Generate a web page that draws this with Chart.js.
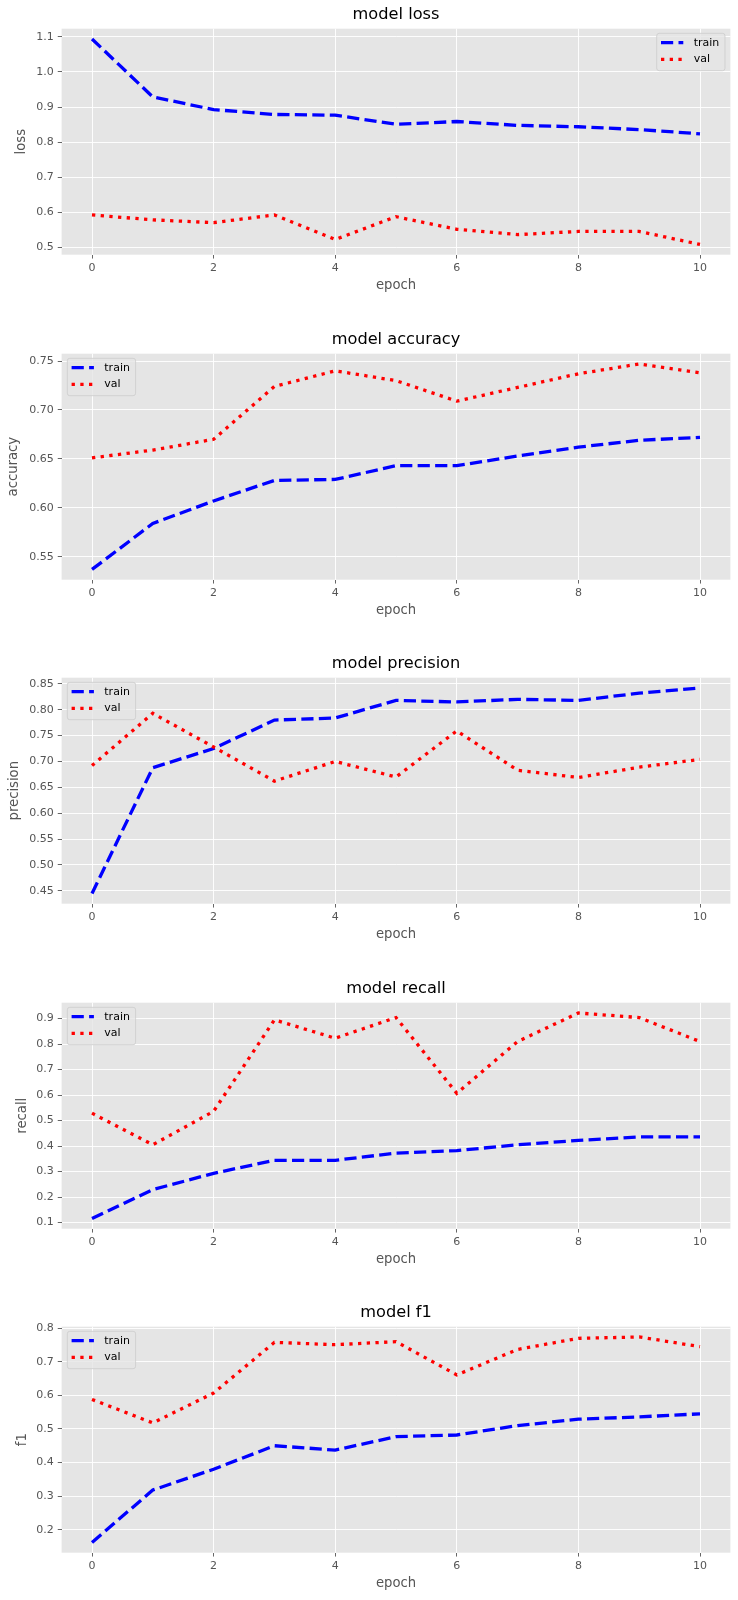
<!DOCTYPE html>
<html><head><meta charset="utf-8">
<script src="https://cdn.jsdelivr.net/npm/chart.js@4.4.1/dist/chart.umd.min.js"></script>
<style>
html,body{margin:0;padding:0;background:#ffffff;}
body{width:738px;height:1600px;position:relative;overflow:hidden;}
.box{position:absolute;left:0;width:738px;height:300px;}
</style></head><body>
<div class="box" style="top:0px"><canvas id="c0"></canvas></div>
<div class="box" style="top:324.5px"><canvas id="c1"></canvas></div>
<div class="box" style="top:649px"><canvas id="c2"></canvas></div>
<div class="box" style="top:973.5px"><canvas id="c3"></canvas></div>
<div class="box" style="top:1298px"><canvas id="c4"></canvas></div>
<script>
// ---- data ----
const epochs = [0, 1, 2, 3, 4, 5, 6, 7, 8, 9, 10];
const xTickLabels = ['0', '2', '4', '6', '8', '10'];

const lossTrain = [1.094, 0.929, 0.893, 0.879, 0.877, 0.851, 0.859, 0.848, 0.844, 0.836, 0.824];
const lossVal   = [0.593, 0.579, 0.571, 0.593, 0.523, 0.588, 0.552, 0.537, 0.546, 0.546, 0.509];
const lossTicks = ['0.5', '0.6', '0.7', '0.8', '0.9', '1.0', '1.1'];

const accTrain = [0.537, 0.584, 0.607, 0.628, 0.629, 0.643, 0.643, 0.653, 0.662, 0.669, 0.672];
const accVal   = [0.651, 0.659, 0.670, 0.724, 0.740, 0.730, 0.709, 0.723, 0.737, 0.747, 0.738];
const accTicks = ['0.55', '0.60', '0.65', '0.70', '0.75'];

const precTrain = [0.445, 0.688, 0.725, 0.780, 0.784, 0.818, 0.815, 0.820, 0.818, 0.832, 0.842];
const precVal   = [0.692, 0.793, 0.728, 0.662, 0.700, 0.670, 0.759, 0.683, 0.669, 0.689, 0.704];
const precTicks = ['0.45', '0.50', '0.55', '0.60', '0.65', '0.70', '0.75', '0.80', '0.85'];

const recallTrain = [0.116, 0.229, 0.293, 0.344, 0.344, 0.372, 0.382, 0.405, 0.422, 0.436, 0.436];
const recallVal   = [0.529, 0.405, 0.536, 0.895, 0.823, 0.904, 0.607, 0.810, 0.922, 0.904, 0.810];
const recallTicks = ['0.1', '0.2', '0.3', '0.4', '0.5', '0.6', '0.7', '0.8', '0.9'];

const f1Train = [0.162, 0.318, 0.380, 0.450, 0.437, 0.477, 0.482, 0.510, 0.529, 0.536, 0.545];
const f1Val   = [0.588, 0.518, 0.607, 0.758, 0.751, 0.760, 0.661, 0.737, 0.770, 0.774, 0.745];
const f1Ticks = ['0.2', '0.3', '0.4', '0.5', '0.6', '0.7', '0.8'];

const seriesNames = ['train', 'val'];

// ---- panels ----
const panels = [
  {id: 'c0', title: 'model loss',      ylabel: 'loss',      train: lossTrain,   val: lossVal,   ticks: lossTicks,   side: 'right', ylabX: 21.6},
  {id: 'c1', title: 'model accuracy',  ylabel: 'accuracy',  train: accTrain,    val: accVal,    ticks: accTicks,    side: 'left',  ylabX: 14.0},
  {id: 'c2', title: 'model precision', ylabel: 'precision', train: precTrain,   val: precVal,   ticks: precTicks,   side: 'left',  ylabX: 14.5},
  {id: 'c3', title: 'model recall',    ylabel: 'recall',    train: recallTrain, val: recallVal, ticks: recallTicks, side: 'left',  ylabX: 22.2},
  {id: 'c4', title: 'model f1',        ylabel: 'f1',        train: f1Train,     val: f1Val,     ticks: f1Ticks,     side: 'left',  ylabX: 22.2}
];

const FONT = '"DejaVu Sans", "Liberation Sans", sans-serif';

const bgPlugin = {
  id: 'plotBg',
  beforeDraw(chart) {
    const {ctx, chartArea: a} = chart;
    ctx.save();
    ctx.fillStyle = '#E5E5E5';
    ctx.fillRect(a.left, a.top, a.right - a.left, a.bottom - a.top);
    ctx.restore();
  }
};

const legendPlugin = {
  id: 'mplLegend',
  afterDraw(chart, args, opts) {
    const a = chart.chartArea, ctx = chart.ctx;
    const w = 68.3, h = 37.4;
    const left = opts.side === 'right' ? a.right - 5.4 - w : a.left + 5.7;
    const top = a.top + 4.6;
    ctx.save();
    ctx.beginPath();
    if (ctx.roundRect) ctx.roundRect(left, top, w, h, 2.5); else ctx.rect(left, top, w, h);
    ctx.fillStyle = 'rgba(229,229,229,0.8)';
    ctx.fill();
    ctx.lineWidth = 1;
    ctx.strokeStyle = 'rgba(204,204,204,0.8)';
    ctx.stroke();
    chart.data.datasets.forEach((ds, i) => {
      const y = top + 9.4 + i * 16.6;
      ctx.beginPath();
      ctx.setLineDash(ds.borderDash || []);
      ctx.lineCap = 'butt';
      ctx.lineWidth = ds.borderWidth;
      ctx.strokeStyle = ds.borderColor;
      ctx.moveTo(left + 4.3, y);
      ctx.lineTo(left + 4.3 + 22.3, y);
      ctx.stroke();
      ctx.setLineDash([]);
      ctx.fillStyle = '#000000';
      ctx.font = '11px ' + FONT;
      ctx.textBaseline = 'middle';
      ctx.textAlign = 'left';
      ctx.fillText(ds.label, left + 37, y);
    });
    ctx.restore();
  }
};

panels.forEach(p => {
  const all = p.train.concat(p.val);
  const lo = Math.min(...all), hi = Math.max(...all);
  const m = (hi - lo) * 0.05;
  const gridOpts = {color: '#FFFFFF', lineWidth: 0.9, tickColor: '#555555', tickLength: 3.85, tickWidth: 0.9};
  new Chart(document.getElementById(p.id), {
    type: 'line',
    data: {
      datasets: [
        {label: seriesNames[0], data: epochs.map((e, i) => ({x: e, y: p.train[i]})),
         borderColor: '#0000FF', backgroundColor: '#0000FF', borderWidth: 3.3, borderDash: [12.2, 5.3],
         pointRadius: 0, fill: false, tension: 0, order: 1},
        {label: seriesNames[1], data: epochs.map((e, i) => ({x: e, y: p.val[i]})),
         borderColor: '#FF0000', backgroundColor: '#FF0000', borderWidth: 3.3, borderDash: [3.3, 5.4],
         pointRadius: 0, fill: false, tension: 0, order: 0}
      ]
    },
    options: {
      responsive: true, maintainAspectRatio: false, animation: false, events: [],
      layout: {padding: {left: 0, right: 7.6, top: 0, bottom: 5.3}},
      plugins: {
        legend: {display: false},
        tooltip: {enabled: false},
        title: {display: true, text: p.title, color: '#000000', fullSize: false,
                font: {family: FONT, size: 16.2, weight: 'normal'}, padding: {top: 5.48, bottom: 3.78}},
        mplLegend: {side: p.side}
      },
      scales: {
        x: {
          type: 'linear', min: -0.5, max: 10.5,
          afterBuildTicks: s => { s.ticks = xTickLabels.map(t => ({value: parseFloat(t)})); },
          ticks: {callback: (v, i) => xTickLabels[i], color: '#555555', font: {family: FONT, size: 11},
                  padding: 2.55, maxRotation: 0, autoSkip: false},
          grid: gridOpts,
          border: {display: false},
          title: {display: true, text: 'epoch', color: '#555555', font: {family: FONT, size: 13.2},
                  padding: {top: 0, bottom: 1.6}},
          afterFit: s => { s.height = 40; }
        },
        y: {
          type: 'linear', min: lo - m, max: hi + m,
          afterBuildTicks: s => { s.ticks = p.ticks.map(t => ({value: parseFloat(t)})); },
          ticks: {callback: (v, i) => p.ticks[i], color: '#555555', font: {family: FONT, size: 11},
                  padding: 4, autoSkip: false},
          grid: gridOpts,
          border: {display: false},
          title: {display: true, text: p.ylabel, color: '#555555', font: {family: FONT, size: 13.2},
                  padding: {top: p.ylabX - 7.92, bottom: 0}},
          afterFit: s => { s.width = 61.6; }
        }
      }
    },
    plugins: [bgPlugin, legendPlugin]
  });
});
</script>
</body></html>
